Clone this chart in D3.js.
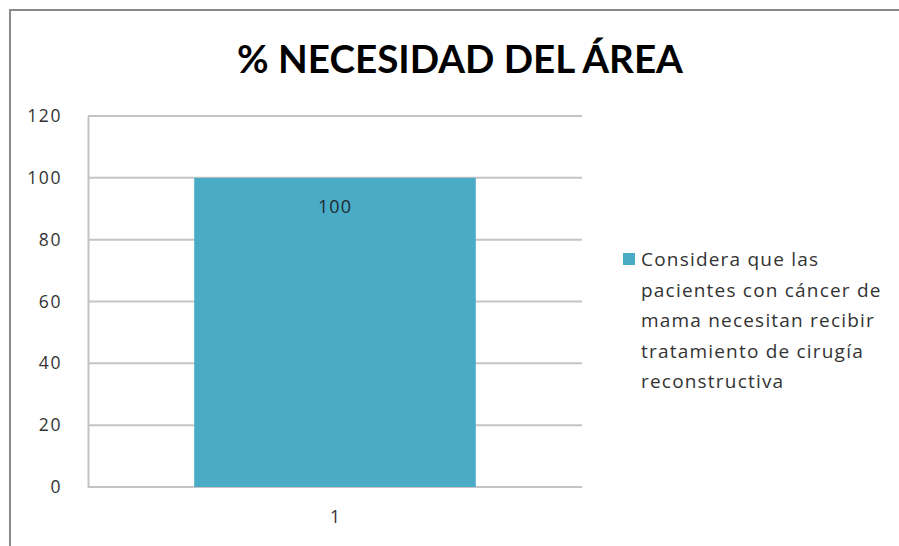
<!DOCTYPE html>
<html>
<head>
<meta charset="utf-8">
<script src="https://cdn.jsdelivr.net/npm/d3@7"></script>
<style>
  html, body { margin: 0; padding: 0; background: #fff; }
  svg { display: block; }
</style>
</head>
<body>
<svg id="chart" width="899" height="546"></svg>
<script>
// Chart data
const categories = ["1"];
const values = [100];
const yTicks = [0, 20, 40, 60, 80, 100, 120];
const seriesName = "Considera que las pacientes con cáncer de mama necesitan recibir tratamiento de cirugía reconstructiva";
const legendLines = [
  "Considera que las",
  "pacientes con cáncer de",
  "mama necesitan recibir",
  "tratamiento de cirugía",
  "reconstructiva"
];
const titleText = "% NECESIDAD DEL ÁREA";

const W = 899, H = 546;
const svg = d3.select("#chart");
const titleFont = "Lato, 'Open Sans', sans-serif";
const font = "'Open Sans', Lato, sans-serif";
const barColor = "#4aabc6";
const gridColor = "#c4c4c4";

// Outer frame (top and left edges)
svg.append("path")
  .attr("d", `M10,${H} L10,10 L${W},10`)
  .attr("fill", "none")
  .attr("stroke", "#8a8a8a")
  .attr("stroke-width", 2);

// Plot area
const plot = { left: 88, right: 582, top: 116, bottom: 487 };

const x = d3.scaleBand()
  .domain(categories)
  .range([plot.left, plot.right])
  .paddingInner(0.43)
  .paddingOuter(0.215);

const y = d3.scaleLinear()
  .domain([0, 120])
  .range([plot.bottom, plot.top]);

// Gridlines
svg.append("g")
  .selectAll("line")
  .data(yTicks)
  .join("line")
  .attr("x1", plot.left)
  .attr("x2", plot.right)
  .attr("y1", d => y(d))
  .attr("y2", d => y(d))
  .attr("stroke", gridColor)
  .attr("stroke-width", 2);

// Y axis
const yAxis = svg.append("g")
  .attr("transform", `translate(${plot.left},0)`)
  .call(d3.axisLeft(y).tickValues(yTicks).tickSize(0).tickPadding(26));
yAxis.select(".domain").attr("stroke", gridColor).attr("stroke-width", 2);
yAxis.selectAll("text")
  .attr("font-family", font)
  .attr("font-size", 17.5)
  .attr("letter-spacing", 1.6)
  .attr("fill", "#333");

// X axis labels
const xAxis = svg.append("g")
  .attr("transform", `translate(0,${plot.bottom})`)
  .call(d3.axisBottom(x).tickSize(0).tickPadding(24));
xAxis.select(".domain").remove();
xAxis.selectAll("text")
  .attr("font-family", font)
  .attr("font-size", 17.5)
  .attr("fill", "#333");

// Bars
svg.append("g")
  .selectAll("rect")
  .data(values)
  .join("rect")
  .attr("x", (d, i) => x(categories[i]))
  .attr("width", x.bandwidth())
  .attr("y", d => y(d))
  .attr("height", d => y(0) - y(d))
  .attr("fill", barColor);

// Value labels
svg.append("g")
  .selectAll("text")
  .data(values)
  .join("text")
  .attr("x", (d, i) => x(categories[i]) + x.bandwidth() / 2)
  .attr("y", d => y(d) + 35)
  .attr("text-anchor", "middle")
  .attr("font-family", font)
  .attr("font-size", 18)
  .attr("letter-spacing", 1)
  .attr("fill", "#1e2a30")
  .text(d => d);

// Title
const title = svg.append("text")
  .attr("x", 460)
  .attr("y", 73)
  .attr("text-anchor", "middle")
  .attr("font-family", titleFont)
  .attr("font-weight", "bold")
  .attr("font-size", 42)
  .attr("fill", "#000")
  .text(titleText);
const tw = title.node().getComputedTextLength();
title.attr("font-size", 42 * 446 / tw);

// Legend
const legend = svg.append("g").attr("transform", "translate(623,0)");
legend.append("rect")
  .attr("x", 0).attr("y", 253)
  .attr("width", 12).attr("height", 12)
  .attr("fill", barColor);
legend.append("text")
  .attr("font-family", font)
  .attr("font-size", 19)
  .attr("letter-spacing", 1.2)
  .attr("fill", "#333")
  .selectAll("tspan")
  .data(legendLines)
  .join("tspan")
  .attr("x", 18)
  .attr("y", (d, i) => 266 + i * 30.5)
  .text(d => d);
legend.append("title").text(seriesName);
</script>
</body>
</html>
